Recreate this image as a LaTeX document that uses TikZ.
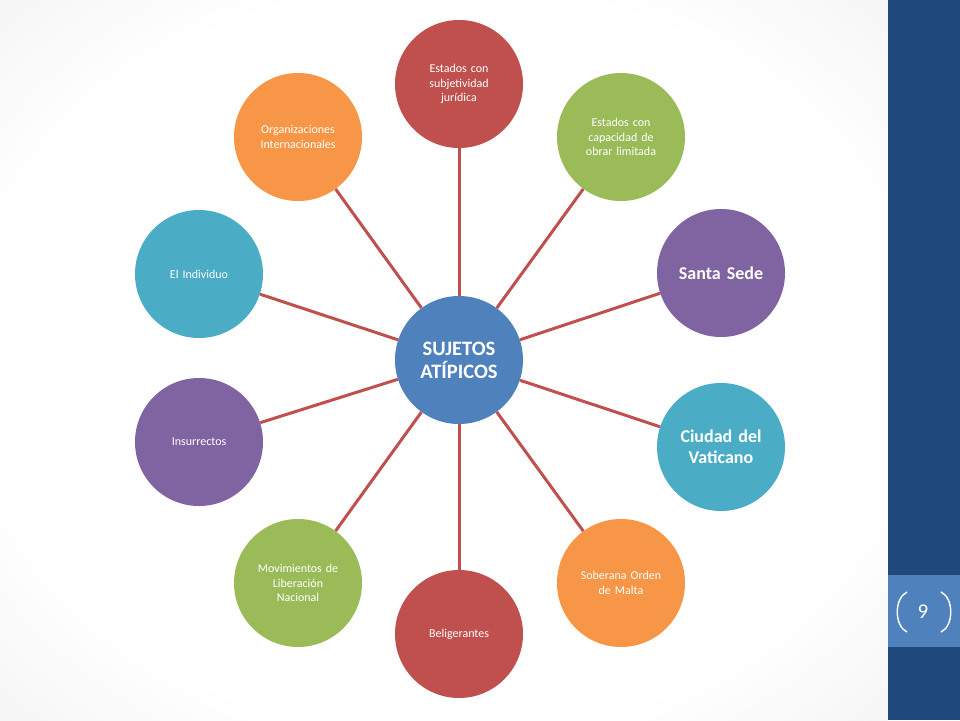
\documentclass[tikz,border=0pt]{standalone}
\usepackage{fontspec}
\setmainfont{Carlito}
\definecolor{cred}{HTML}{C0504D}
\definecolor{cgreen}{HTML}{9BBB59}
\definecolor{cpurple}{HTML}{8064A2}
\definecolor{cteal}{HTML}{4BACC6}
\definecolor{corange}{HTML}{F79646}
\definecolor{cblue}{HTML}{4F81BD}
\definecolor{cdark}{HTML}{1F497D}
\pgfdeclareradialshading{bgshade}{\pgfpoint{0bp}{0bp}}{color(0bp)=(white); color(26bp)=(white); color(72bp)=(black!18)}
\begin{document}
\begin{tikzpicture}[x=1pt,y=-1pt,
  bub/.style={circle, minimum size=128pt, inner sep=0pt, text=white, align=center, text width=100pt, font=\fontsize{12}{14.5}\selectfont},
  bigbub/.style={bub, font=\bfseries\fontsize{18}{21}\selectfont},
  link/.style={draw=cred, line width=3pt}]
\useasboundingbox (0,0) rectangle (960,720);
\shade[shading=bgshade] (0,0) rectangle (888,720);
\fill[cdark] (888,0) rectangle (960,720);
\fill[cblue] (888,575) rectangle (960,647);
\node[text=white, font=\fontsize{21}{21}\selectfont] (pg) at (923,612) {9};
\draw[white, line width=1.4pt] (907,592) .. controls (894,598) and (894,626) .. (907,632);
\draw[white, line width=1.4pt] (941,592) .. controls (954,598) and (954,626) .. (941,632);

\node[bub, fill=cblue, font=\bfseries\fontsize{20.5}{23}\selectfont] (c) at (459,360) {SUJETOS\\ATÍPICOS};
\node[bub, fill=cred] (n1) at (459,84) {Estados con\\subjetividad\\jurídica};
\node[bub, fill=cgreen] (n2) at (621,137) {Estados con\\capacidad de\\obrar limitada};
\node[bigbub, fill=cpurple] (n3) at (721,273) {Santa Sede};
\node[bigbub, fill=cteal] (n4) at (721,447) {Ciudad del\\Vaticano};
\node[bub, fill=corange] (n5) at (621,583) {Soberana Orden\\de Malta};
\node[bub, fill=cred] (n6) at (459,634) {Beligerantes};
\node[bub, fill=cgreen] (n7) at (298,583) {Movimientos de\\Liberación\\Nacional};
\node[bub, fill=cpurple] (n8) at (199,442) {Insurrectos};
\node[bub, fill=cteal] (n9) at (199,274) {El Individuo};
\node[bub, fill=corange] (n10) at (298,137) {Organizaciones\\Internacionales};
\foreach \n in {n1,n2,n3,n4,n5,n6,n7,n8,n9,n10}
  \draw[link] (c) -- (\n);
\end{tikzpicture}
\end{document}
